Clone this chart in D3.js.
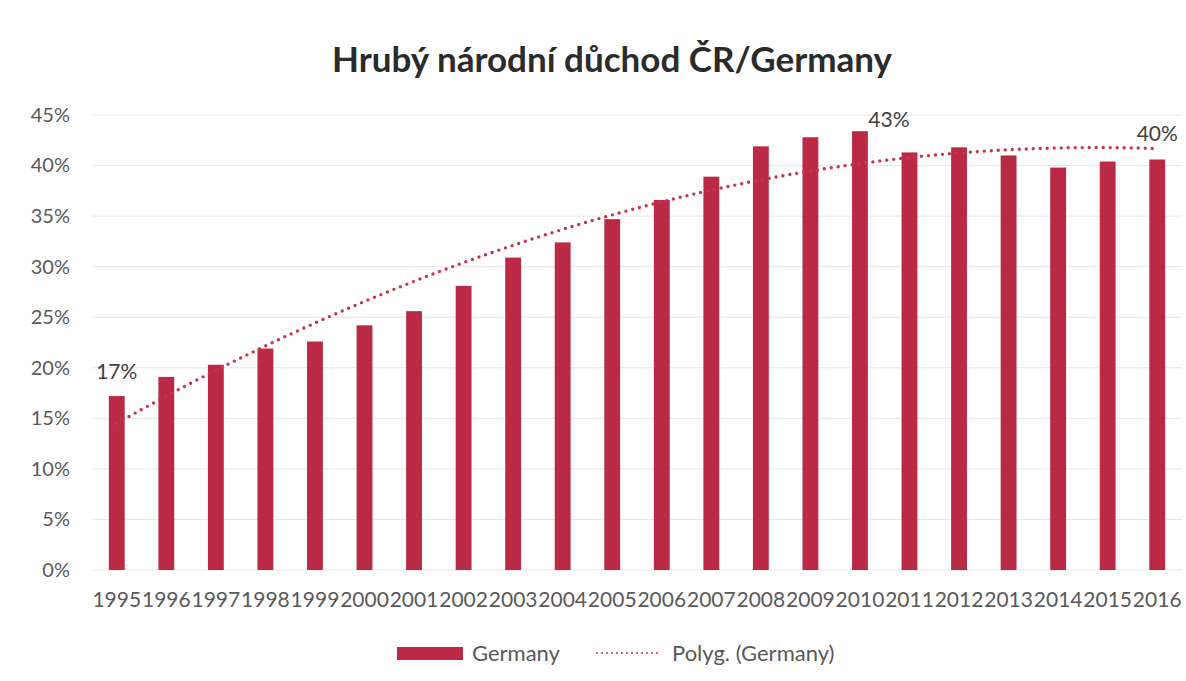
<!DOCTYPE html>
<html>
<head>
<meta charset="utf-8">
<script src="https://cdn.jsdelivr.net/npm/d3@7"></script>
<style>
  body { margin: 0; background: #fff; }
  text { font-family: Lato, "Open Sans", sans-serif; }
</style>
</head>
<body>
<svg width="1186" height="681"></svg>
<script>
// data
var years = ['1995', '1996', '1997', '1998', '1999', '2000', '2001', '2002', '2003', '2004', '2005',
             '2006', '2007', '2008', '2009', '2010', '2011', '2012', '2013', '2014', '2015', '2016'];
var germany = [17.2, 19.1, 20.3, 21.9, 22.6, 24.2, 25.6, 28.1, 30.9, 32.4, 34.7,
               36.6, 38.9, 41.9, 42.8, 43.4, 41.3, 41.8, 41.0, 39.8, 40.4, 40.6];
var yTicks = [0, 5, 10, 15, 20, 25, 30, 35, 40, 45];
// which bars carry a data label
var labelled = [
    { year: '1995', text: '17%', dx: 0, dy: -17 },
    { year: '2010', text: '43%', dx: 29, dy: -4 },
    { year: '2016', text: '40%', dx: 0, dy: -18 }
];

var barColor = '#bb2a45';
var trendColor = '#c7344f';

var svg = d3.select('svg');

var xScale = d3.scaleBand().domain(years).range([92, 1182])
    .paddingInner(0.68).paddingOuter(0.34);
var yScale = d3.scaleLinear().domain([0, 45]).range([570, 115]);

// title
svg.append('text')
    .attr('x', 612).attr('y', 72)
    .attr('text-anchor', 'middle')
    .attr('font-size', 35).attr('font-weight', 'bold')
    .attr('fill', '#2b2b2b')
    .text('Hrubý národní důchod ČR/Germany');

// gridlines
svg.append('g').selectAll('line')
    .data(yTicks)
    .enter().append('line')
    .attr('x1', 92).attr('x2', 1182)
    .attr('y1', d => yScale(d)).attr('y2', d => yScale(d))
    .attr('stroke', '#e6e6e6').attr('stroke-width', 1);

// y axis
var yAxis = d3.axisLeft(yScale).tickValues(yTicks).tickSize(0).tickPadding(0)
    .tickFormat(d => d + '%');
var yG = svg.append('g').attr('transform', 'translate(70,0)').call(yAxis);
yG.select('.domain').remove();
yG.selectAll('text').attr('font-size', 20).attr('fill', '#595959')
    .style('font-family', 'Lato, sans-serif');

// x axis
var xAxis = d3.axisBottom(xScale).tickSize(0).tickPadding(0);
var xG = svg.append('g').attr('transform', 'translate(0,592)').call(xAxis);
xG.select('.domain').remove();
xG.selectAll('text').attr('font-size', 21).attr('fill', '#595959')
    .style('font-family', 'Lato, sans-serif');

// bars
svg.append('g').selectAll('rect')
    .data(germany)
    .enter().append('rect')
    .attr('x', (d, i) => xScale(years[i]))
    .attr('y', d => yScale(d))
    .attr('width', xScale.bandwidth())
    .attr('height', d => yScale(0) - yScale(d))
    .attr('fill', barColor);

// polynomial (order 2) trendline, least squares like Excel does
function polyFit(ys) {
    var s = [0, 0, 0, 0, 0], t = [0, 0, 0];
    ys.forEach(function (y, i) {
        var x = i + 1;
        for (var k = 0; k < 5; k++) s[k] += Math.pow(x, k);
        for (var k2 = 0; k2 < 3; k2++) t[k2] += y * Math.pow(x, k2);
    });
    var m = [[s[0], s[1], s[2], t[0]], [s[1], s[2], s[3], t[1]], [s[2], s[3], s[4], t[2]]];
    for (var c = 0; c < 3; c++) {
        for (var r = c + 1; r < 3; r++) {
            var f = m[r][c] / m[c][c];
            for (var j = c; j < 4; j++) m[r][j] -= f * m[c][j];
        }
    }
    var coef = [0, 0, 0];
    for (var r2 = 2; r2 >= 0; r2--) {
        var v = m[r2][3];
        for (var j2 = r2 + 1; j2 < 3; j2++) v -= m[r2][j2] * coef[j2];
        coef[r2] = v / m[r2][r2];
    }
    return coef;
}
var coef = polyFit(germany);
var trendPts = d3.range(1, years.length + 0.001, 0.1).map(function (x) {
    return [x, coef[0] + coef[1] * x + coef[2] * x * x];
});
var xCenter = function (x) {
    return xScale(years[0]) + xScale.bandwidth() / 2 + (x - 1) * xScale.step();
};
svg.append('path')
    .datum(trendPts)
    .attr('d', d3.line().x(d => xCenter(d[0])).y(d => yScale(d[1])))
    .attr('fill', 'none')
    .attr('stroke', trendColor)
    .attr('stroke-width', 3.4)
    .attr('stroke-linecap', 'round')
    .attr('stroke-dasharray', '0 7');

// data labels
svg.append('g').selectAll('text')
    .data(labelled)
    .enter().append('text')
    .attr('x', d => xScale(d.year) + xScale.bandwidth() / 2 + d.dx)
    .attr('y', d => yScale(germany[years.indexOf(d.year)]) + d.dy)
    .attr('text-anchor', 'middle')
    .attr('font-size', 21)
    .attr('fill', '#404040')
    .text(d => d.text);

// legend
var legend = svg.append('g');
legend.append('rect')
    .attr('x', 397).attr('y', 647).attr('width', 66).attr('height', 13)
    .attr('fill', barColor);
legend.append('text')
    .attr('x', 472).attr('y', 661)
    .attr('font-size', 22).attr('fill', '#595959')
    .text('Germany');
legend.append('line')
    .attr('x1', 597).attr('x2', 660).attr('y1', 653).attr('y2', 653)
    .attr('stroke', trendColor).attr('stroke-width', 2)
    .attr('stroke-linecap', 'round')
    .attr('stroke-dasharray', '0 5');
legend.append('text')
    .attr('x', 672).attr('y', 661)
    .attr('font-size', 22).attr('fill', '#595959')
    .text('Polyg. (Germany)');
</script>
</body>
</html>
